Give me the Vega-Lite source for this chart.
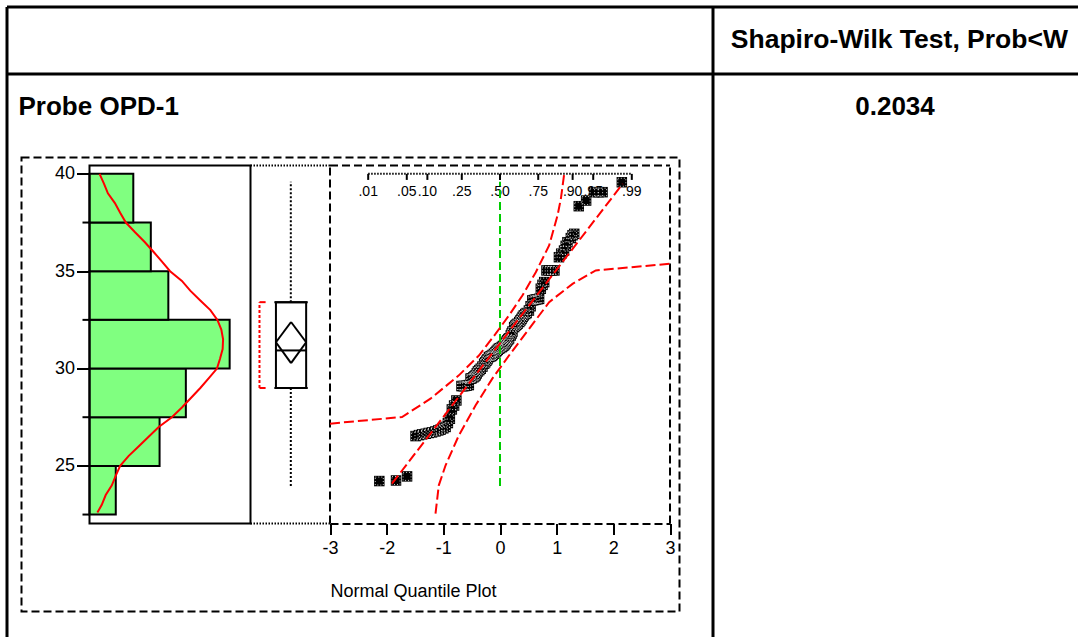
{
"$schema": "https://vega.github.io/schema/vega-lite/v6.json",
"padding": {"left": 6.5, "top": 6.5, "right": 0, "bottom": 0},
"background": "white",
"config": {"font": "Liberation Sans", "view": {"stroke": null}, "axis": {"grid": false}},
"datasets": {
"hist": [{"lo":22.5,"hi":25,"count":6},{"lo":25,"hi":27.5,"count":16},{"lo":27.5,"hi":30,"count":22},{"lo":30,"hi":32.5,"count":32},{"lo":32.5,"hi":35,"count":18},{"lo":35,"hi":37.5,"count":14},{"lo":37.5,"hi":40,"count":10}],
"density": [{"value":22.6,"dens":1.8},{"value":23,"dens":2.8},{"value":23.5,"dens":3.7},{"value":24,"dens":5.1},{"value":24.5,"dens":6.0},{"value":25,"dens":7.0},{"value":25.5,"dens":8.9},{"value":26,"dens":11.2},{"value":26.5,"dens":13.5},{"value":27,"dens":15.8},{"value":27.5,"dens":18.8},{"value":28,"dens":21.1},{"value":28.5,"dens":23.2},{"value":29,"dens":25.3},{"value":29.5,"dens":27.2},{"value":30,"dens":29.1},{"value":30.5,"dens":29.8},{"value":31,"dens":30.4},{"value":31.5,"dens":30.5},{"value":32,"dens":30.1},{"value":32.5,"dens":29.2},{"value":33,"dens":27.6},{"value":33.5,"dens":25.3},{"value":34,"dens":23.0},{"value":34.5,"dens":21.1},{"value":35,"dens":18.4},{"value":35.5,"dens":16.5},{"value":36,"dens":14.6},{"value":36.5,"dens":12.6},{"value":37,"dens":10.4},{"value":37.5,"dens":8.3},{"value":38,"dens":7.0},{"value":38.5,"dens":5.8},{"value":39,"dens":4.2},{"value":39.5,"dens":3.3},{"value":40,"dens":2.3}],
"box": [{"q1":29.0,"q3":33.41,"median":30.93,"mean":31.35,"ciLo":30.28,"ciHi":32.39,"whiskLo":23.97,"whiskHi":39.6}],
"points": [{"quantile":-2.13,"value":24.22},{"quantile":-1.835,"value":24.25},{"quantile":-1.64,"value":24.46},{"quantile":-1.49,"value":26.53},{"quantile":-1.43,"value":26.58},{"quantile":-1.375,"value":26.62},{"quantile":-1.31,"value":26.65},{"quantile":-1.257,"value":26.69},{"quantile":-1.2,"value":26.72},{"quantile":-1.14,"value":26.77},{"quantile":-1.09,"value":26.82},{"quantile":-1.05,"value":26.86},{"quantile":-1.0,"value":26.93},{"quantile":-0.96,"value":27.0},{"quantile":-0.92,"value":27.2},{"quantile":-0.885,"value":27.42},{"quantile":-0.85,"value":27.9},{"quantile":-0.81,"value":28.1},{"quantile":-0.77,"value":28.36},{"quantile":-0.68,"value":29.1},{"quantile":-0.655,"value":29.1},{"quantile":-0.63,"value":29.1},{"quantile":-0.59,"value":29.12},{"quantile":-0.55,"value":29.15},{"quantile":-0.52,"value":29.48},{"quantile":-0.5,"value":29.5},{"quantile":-0.47,"value":29.55},{"quantile":-0.45,"value":29.6},{"quantile":-0.43,"value":29.65},{"quantile":-0.41,"value":29.75},{"quantile":-0.39,"value":29.85},{"quantile":-0.365,"value":29.92},{"quantile":-0.34,"value":29.99},{"quantile":-0.31,"value":30.1},{"quantile":-0.28,"value":30.25},{"quantile":-0.26,"value":30.32},{"quantile":-0.24,"value":30.4},{"quantile":-0.22,"value":30.48},{"quantile":-0.195,"value":30.59},{"quantile":-0.17,"value":30.62},{"quantile":-0.15,"value":30.65},{"quantile":-0.13,"value":30.7},{"quantile":-0.106,"value":30.76},{"quantile":-0.08,"value":30.83},{"quantile":-0.06,"value":30.9},{"quantile":-0.04,"value":30.96},{"quantile":-0.02,"value":31.02},{"quantile":0.0,"value":31.05},{"quantile":0.03,"value":31.1},{"quantile":0.05,"value":31.15},{"quantile":0.07,"value":31.19},{"quantile":0.085,"value":31.25},{"quantile":0.1,"value":31.3},{"quantile":0.115,"value":31.38},{"quantile":0.13,"value":31.45},{"quantile":0.145,"value":31.5},{"quantile":0.16,"value":31.55},{"quantile":0.19,"value":31.7},{"quantile":0.205,"value":31.8},{"quantile":0.22,"value":31.9},{"quantile":0.25,"value":32.13},{"quantile":0.27,"value":32.2},{"quantile":0.29,"value":32.25},{"quantile":0.31,"value":32.3},{"quantile":0.34,"value":32.39},{"quantile":0.36,"value":32.47},{"quantile":0.38,"value":32.55},{"quantile":0.4,"value":32.65},{"quantile":0.42,"value":32.73},{"quantile":0.445,"value":32.8},{"quantile":0.47,"value":32.85},{"quantile":0.51,"value":32.98},{"quantile":0.54,"value":33.2},{"quantile":0.57,"value":33.5},{"quantile":0.6,"value":33.52},{"quantile":0.63,"value":33.55},{"quantile":0.66,"value":33.56},{"quantile":0.69,"value":33.58},{"quantile":0.72,"value":34.1},{"quantile":0.75,"value":34.3},{"quantile":0.78,"value":34.44},{"quantile":0.82,"value":35.04},{"quantile":0.87,"value":35.04},{"quantile":0.91,"value":35.04},{"quantile":0.96,"value":35.04},{"quantile":1.04,"value":35.72},{"quantile":1.08,"value":35.9},{"quantile":1.13,"value":36.06},{"quantile":1.16,"value":36.3},{"quantile":1.19,"value":36.49},{"quantile":1.25,"value":36.7},{"quantile":1.28,"value":36.85},{"quantile":1.31,"value":36.92},{"quantile":1.39,"value":38.34},{"quantile":1.52,"value":38.63},{"quantile":1.66,"value":39.06},{"quantile":1.74,"value":39.06},{"quantile":1.81,"value":39.06},{"quantile":2.15,"value":39.57}],
"bands": [{"band":"upper","quantile":-3,"value":27.17},{"band":"upper","quantile":-1.729,"value":27.51},{"band":"upper","quantile":-1.227,"value":28.45},{"band":"upper","quantile":-0.726,"value":29.65},{"band":"upper","quantile":-0.372,"value":30.67},{"band":"upper","quantile":-0.076,"value":31.79},{"band":"upper","quantile":0.159,"value":32.73},{"band":"upper","quantile":0.395,"value":33.75},{"band":"upper","quantile":0.632,"value":34.95},{"band":"upper","quantile":0.867,"value":36.32},{"band":"upper","quantile":1.015,"value":37.86},{"band":"upper","quantile":1.074,"value":38.72},{"band":"upper","quantile":1.133,"value":40.0},{"band":"lower","quantile":-1.138,"value":22.55},{"band":"lower","quantile":-1.08,"value":24.0},{"band":"lower","quantile":-0.96,"value":25.03},{"band":"lower","quantile":-0.726,"value":26.57},{"band":"lower","quantile":-0.43,"value":28.11},{"band":"lower","quantile":-0.136,"value":29.48},{"band":"lower","quantile":0.159,"value":30.67},{"band":"lower","quantile":0.513,"value":32.04},{"band":"lower","quantile":0.867,"value":33.41},{"band":"lower","quantile":1.28,"value":34.35},{"band":"lower","quantile":1.69,"value":35.04},{"band":"lower","quantile":3.0,"value":35.38}],
"refline": [{"quantile":-1.906,"value":24.09},{"quantile":2.165,"value":39.49}],
"probs": [{"z":-2.326,"label":".01"},{"z":-1.645,"label":".05"},{"z":-1.2816,"label":".10"},{"z":-0.6745,"label":".25"},{"z":0,"label":".50"},{"z":0.6745,"label":".75"},{"z":1.2816,"label":".90"},{"z":1.645,"label":".95"},{"z":2.326,"label":".99"}]
},
"columns": 4,
"spacing": 0,
"bounds": "flush",
"align": {"row": "each", "column": "each"},
"concat": [
 {"width": 15, "height": 67, "data": {"values": [{"column": "variable", "row": "header", "label": ""}]},
  "mark": {"type": "text"},
  "encoding": {"x": {"field": "column", "type": "nominal", "axis": {"orient": "top", "title": null, "labels": false, "ticks": false, "domain": true, "domainColor": "black", "domainWidth": 3}},
   "y": {"field": "row", "type": "nominal", "axis": {"orient": "left", "title": null, "labels": false, "ticks": false, "domain": true, "domainColor": "black", "domainWidth": 3}},
   "text": {"field": "label"}}},
 {"width": 658, "height": 67, "data": {"values": [{"column": "variable", "label": ""}]},
  "mark": {"type": "text"},
  "encoding": {"x": {"field": "column", "type": "nominal", "axis": {"orient": "top", "title": null, "labels": false, "ticks": false, "domain": true, "domainColor": "black", "domainWidth": 3}},
   "text": {"field": "label"}}},
 {"width": 33, "height": 67, "data": {"values": [{"column": "variable", "label": ""}]},
  "mark": {"type": "text"},
  "encoding": {"x": {"field": "column", "type": "nominal", "axis": {"orient": "top", "title": null, "labels": false, "ticks": false, "domain": true, "domainColor": "black", "domainWidth": 3}},
   "text": {"field": "label"}}},
 {"width": 365, "height": 67, "data": {"values": [{"column": "Shapiro-Wilk Test, Prob<W", "row": "header", "label": "Shapiro-Wilk Test, Prob<W"}]},
  "mark": {"type": "text", "fontSize": 26.5, "fontWeight": "bold", "color": "black"},
  "encoding": {"x": {"field": "column", "type": "nominal", "scale": {"align": 0.512}, "axis": {"orient": "top", "title": null, "labels": false, "ticks": false, "domain": true, "domainColor": "black", "domainWidth": 3}},
   "y": {"field": "row", "type": "nominal", "axis": {"orient": "left", "title": null, "labels": false, "ticks": false, "domain": true, "domainColor": "black", "domainWidth": 3}},
   "text": {"field": "label"}}},
 {"width": 15, "height": 84, "data": {"values": [{"column": "variable", "row": "Probe OPD-1", "label": "Probe OPD-1"}]},
  "mark": {"type": "text", "fontSize": 26, "fontWeight": "bold", "color": "black", "align": "left"},
  "encoding": {"x": {"field": "column", "type": "nominal", "scale": {"align": 0.8}, "axis": {"orient": "top", "title": null, "labels": false, "ticks": false, "domain": true, "domainColor": "black", "domainWidth": 3}},
   "y": {"field": "row", "type": "nominal", "scale": {"align": 0.393}, "axis": {"orient": "left", "title": null, "labels": false, "ticks": false, "domain": true, "domainColor": "black", "domainWidth": 3}},
   "text": {"field": "label"}}},
 {"width": 658, "height": 84, "data": {"values": [{"column": "variable", "label": ""}]},
  "mark": {"type": "text"},
  "encoding": {"x": {"field": "column", "type": "nominal", "axis": {"orient": "top", "title": null, "labels": false, "ticks": false, "domain": true, "domainColor": "black", "domainWidth": 3}},
   "text": {"field": "label"}}},
 {"width": 33, "height": 84, "data": {"values": [{"column": "variable", "label": ""}]},
  "mark": {"type": "text"},
  "encoding": {"x": {"field": "column", "type": "nominal", "axis": {"orient": "top", "title": null, "labels": false, "ticks": false, "domain": true, "domainColor": "black", "domainWidth": 3}},
   "text": {"field": "label"}}},
 {"width": 365, "height": 84, "data": {"values": [{"column": "Shapiro-Wilk Test, Prob<W", "row": "Probe OPD-1", "label": "0.2034"}]},
  "mark": {"type": "text", "fontSize": 26, "fontWeight": "bold", "color": "black"},
  "encoding": {"x": {"field": "column", "type": "nominal", "axis": {"orient": "top", "title": null, "labels": false, "ticks": false, "domain": true, "domainColor": "black", "domainWidth": 3}},
   "y": {"field": "row", "type": "nominal", "scale": {"align": 0.393}, "axis": {"orient": "left", "title": null, "labels": false, "ticks": false, "domain": true, "domainColor": "black", "domainWidth": 3}},
   "text": {"field": "label"}}},
 {"width": 15, "height": 479, "data": {"values": [{"row": "Probe OPD-1"}]},
  "mark": {"type": "text"},
  "encoding": {"y": {"field": "row", "type": "nominal", "axis": {"orient": "left", "title": null, "labels": false, "ticks": false, "domain": true, "domainColor": "black", "domainWidth": 3}}, "text": {"value": ""}}},
 {"width": 658, "height": 454,
  "view": {"stroke": "black", "strokeWidth": 2, "strokeDash": [8, 4]},
  "resolve": {"scale": {"x": "independent"}, "axis": {"x": "independent"}},
  "layer": [
   {"layer": [
    {"data": {"name": "hist"}, "mark": {"type": "rect", "fill": "#80ff80", "stroke": "black", "strokeWidth": 2},
     "encoding": {
      "y": {"field": "lo", "type": "quantitative", "scale": {"domain": [22.04, 40.43], "range": [366, 8], "nice": false, "zero": false},
        "axis": {"orient": "left", "offset": -68, "values": [25, 30, 35, 40], "domain": false, "ticks": true, "tickColor": "black", "tickWidth": 2, "tickSize": 13, "labelFontSize": 18, "labelColor": "black", "labelPadding": 2, "title": null, "grid": false}},
      "y2": {"field": "hi"},
      "x": {"field": "count", "type": "quantitative", "scale": {"domain": [0, 36.76], "range": [68, 229], "nice": false, "zero": false}, "axis": null},
      "x2": {"datum": 0}}},
    {"data": {"name": "hist"}, "transform": [{"filter": "datum.lo % 5 != 0"}], "mark": {"type": "rule", "color": "black", "strokeWidth": 2},
     "encoding": {"y": {"field": "lo", "type": "quantitative"}, "x": {"datum": -1.6, "axis": null}, "x2": {"datum": 0}}},
    {"data": {"name": "density"}, "mark": {"type": "line", "color": "red", "strokeWidth": 2},
     "encoding": {"x": {"field": "dens", "type": "quantitative", "axis": null}, "y": {"field": "value", "type": "quantitative"}, "order": {"field": "value", "type": "quantitative"}}},
    {"data": {"values": [{}]}, "mark": {"type": "rect", "filled": false, "stroke": "black", "strokeWidth": 2},
     "encoding": {"x": {"datum": 0, "axis": null}, "x2": {"datum": 36.76}, "y": {"datum": 22.04}, "y2": {"datum": 40.43}}}
   ]},
   {"layer": [
    {"data": {"values": [{}]}, "mark": {"type": "rule", "color": "black", "strokeWidth": 2, "strokeDash": [1.5, 1.5]},
     "encoding": {"x": {"datum": 0, "scale": {"domain": [0, 1], "range": [229, 308.5], "nice": false, "zero": false}, "axis": null}, "x2": {"datum": 1}, "y": {"datum": 40.43}}},
    {"data": {"values": [{}]}, "mark": {"type": "rule", "color": "black", "strokeWidth": 2, "strokeDash": [1.5, 1.5]},
     "encoding": {"x": {"datum": 0, "axis": null}, "x2": {"datum": 1}, "y": {"datum": 22.04}}},
    {"data": {"name": "box"}, "mark": {"type": "rule", "color": "black", "strokeWidth": 2, "strokeDash": [2, 2]},
     "encoding": {"x": {"datum": 0.507, "axis": null}, "y": {"field": "q3", "type": "quantitative"}, "y2": {"field": "whiskHi"}}},
    {"data": {"name": "box"}, "mark": {"type": "rule", "color": "black", "strokeWidth": 2, "strokeDash": [2, 2]},
     "encoding": {"x": {"datum": 0.507, "axis": null}, "y": {"field": "q1", "type": "quantitative"}, "y2": {"field": "whiskLo"}}},
    {"data": {"name": "box"}, "mark": {"type": "rect", "filled": false, "stroke": "black", "strokeWidth": 2},
     "encoding": {"x": {"datum": 0.32, "axis": null}, "x2": {"datum": 0.7}, "y": {"field": "q1", "type": "quantitative"}, "y2": {"field": "q3"}}},
    {"data": {"name": "box"}, "mark": {"type": "rule", "color": "black", "strokeWidth": 2},
     "encoding": {"x": {"datum": 0.3, "axis": null}, "x2": {"datum": 0.72}, "y": {"field": "q3", "type": "quantitative"}}},
    {"data": {"name": "box"}, "mark": {"type": "rule", "color": "black", "strokeWidth": 2},
     "encoding": {"x": {"datum": 0.3, "axis": null}, "x2": {"datum": 0.72}, "y": {"field": "q1", "type": "quantitative"}}},
    {"data": {"name": "box"}, "mark": {"type": "rule", "color": "black", "strokeWidth": 2},
     "encoding": {"x": {"datum": 0.32, "axis": null}, "x2": {"datum": 0.7}, "y": {"field": "median", "type": "quantitative"}}},
    {"data": {"name": "box"}, "mark": {"type": "rule", "color": "black", "strokeWidth": 2},
     "encoding": {"x": {"datum": 0.51, "axis": null}, "x2": {"datum": 0.7}, "y": {"field": "ciHi", "type": "quantitative"}, "y2": {"field": "mean"}}},
    {"data": {"name": "box"}, "mark": {"type": "rule", "color": "black", "strokeWidth": 2},
     "encoding": {"x": {"datum": 0.7, "axis": null}, "x2": {"datum": 0.51}, "y": {"field": "mean", "type": "quantitative"}, "y2": {"field": "ciLo"}}},
    {"data": {"name": "box"}, "mark": {"type": "rule", "color": "black", "strokeWidth": 2},
     "encoding": {"x": {"datum": 0.51, "axis": null}, "x2": {"datum": 0.32}, "y": {"field": "ciLo", "type": "quantitative"}, "y2": {"field": "mean"}}},
    {"data": {"name": "box"}, "mark": {"type": "rule", "color": "black", "strokeWidth": 2},
     "encoding": {"x": {"datum": 0.32, "axis": null}, "x2": {"datum": 0.51}, "y": {"field": "mean", "type": "quantitative"}, "y2": {"field": "ciHi"}}},
    {"data": {"name": "box"}, "mark": {"type": "rule", "color": "red", "strokeWidth": 2, "strokeDash": [3, 2]},
     "encoding": {"x": {"datum": 0.113, "axis": null}, "y": {"field": "q1", "type": "quantitative"}, "y2": {"field": "q3"}}},
    {"data": {"name": "box"}, "mark": {"type": "rule", "color": "red", "strokeWidth": 2},
     "encoding": {"x": {"datum": 0.113, "axis": null}, "x2": {"datum": 0.19}, "y": {"field": "q1", "type": "quantitative"}}},
    {"data": {"name": "box"}, "mark": {"type": "rule", "color": "red", "strokeWidth": 2},
     "encoding": {"x": {"datum": 0.113, "axis": null}, "x2": {"datum": 0.19}, "y": {"field": "q3", "type": "quantitative"}}}
   ]},
   {"layer": [
    {"data": {"values": [{}]}, "mark": {"type": "rule", "color": "black", "strokeWidth": 2, "strokeDash": [8, 4]},
     "encoding": {"x": {"datum": -3, "scale": {"domain": [-3, 3], "range": [308.5, 648.5], "nice": false, "zero": false}}, "y": {"datum": 22.04}, "y2": {"datum": 40.43}}},
    {"data": {"values": [{}]}, "mark": {"type": "rule", "color": "black", "strokeWidth": 2, "strokeDash": [8, 4]},
     "encoding": {"x": {"datum": 3}, "y": {"datum": 22.04}, "y2": {"datum": 40.43}}},
    {"data": {"values": [{}]}, "mark": {"type": "rule", "color": "black", "strokeWidth": 2, "strokeDash": [8, 4]},
     "encoding": {"x": {"datum": -3}, "x2": {"datum": 3}, "y": {"datum": 40.43}}},
    {"data": {"values": [{}]}, "mark": {"type": "rule", "color": "black", "strokeWidth": 2, "strokeDash": [1.5, 1.5]},
     "encoding": {"x": {"datum": -2.326}, "x2": {"datum": 2.326}, "y": {"datum": 40}}},
    {"data": {"name": "probs"}, "mark": {"type": "rule", "color": "black", "strokeWidth": 2},
     "encoding": {"x": {"field": "z", "type": "quantitative"}, "y": {"datum": 40}, "y2": {"datum": 39.69}}},
    {"data": {"name": "probs"}, "mark": {"type": "text", "fontSize": 14, "color": "black", "baseline": "top", "dy": 11},
     "encoding": {"x": {"field": "z", "type": "quantitative"}, "y": {"datum": 40}, "text": {"field": "label"}}},
    {"data": {"name": "points"}, "mark": {"type": "point", "shape": "square", "filled": true, "color": "black", "size": 110, "opacity": 1},
     "encoding": {"x": {"field": "quantile", "type": "quantitative",
       "axis": {"orient": "bottom", "offset": -88, "values": [-3, -2, -1, 0, 1, 2, 3], "labelExpr": "datum.value + ''", "domain": true, "domainColor": "black", "domainWidth": 2, "domainDash": [8, 4], "ticks": true, "tickColor": "black", "tickWidth": 2, "tickSize": 11, "labelFontSize": 18, "labelColor": "black", "labelPadding": 5, "labelFlush": false, "title": "Normal Quantile Plot", "titleFontSize": 18, "titleFontWeight": "normal", "titleColor": "black", "titleAnchor": "start", "titleAlign": "left", "titlePadding": 25, "grid": false}},
      "y": {"field": "value", "type": "quantitative"}}},
    {"data": {"name": "points"}, "mark": {"type": "point", "shape": "square", "filled": false, "stroke": "white", "strokeWidth": 0.8, "strokeDash": [1, 2], "size": 64, "opacity": 1},
     "encoding": {"x": {"field": "quantile", "type": "quantitative"}, "y": {"field": "value", "type": "quantitative"}}},
    {"data": {"name": "box"}, "mark": {"type": "rule", "color": "#00cc00", "strokeWidth": 2, "strokeDash": [8, 4]},
     "encoding": {"x": {"datum": 0}, "y": {"field": "whiskLo", "type": "quantitative"}, "y2": {"field": "whiskHi"}}},
    {"data": {"name": "bands"}, "mark": {"type": "line", "color": "red", "strokeWidth": 2, "strokeDash": [10, 4]},
     "encoding": {"x": {"field": "quantile", "type": "quantitative"}, "y": {"field": "value", "type": "quantitative"}, "detail": {"field": "band"}, "order": {"field": "quantile", "type": "quantitative"}}},
    {"data": {"name": "refline"}, "mark": {"type": "line", "color": "red", "strokeWidth": 2, "strokeDash": [10, 4]},
     "encoding": {"x": {"field": "quantile", "type": "quantitative"}, "y": {"field": "value", "type": "quantitative"}}}
   ]}
  ]},
 {"width": 33, "height": 479, "data": {"values": []}, "mark": {"type": "point"}},
 {"width": 365, "height": 479, "data": {"values": [{"row": "Probe OPD-1"}]},
  "mark": {"type": "text"},
  "encoding": {"y": {"field": "row", "type": "nominal", "axis": {"orient": "left", "title": null, "labels": false, "ticks": false, "domain": true, "domainColor": "black", "domainWidth": 3}}, "text": {"value": ""}}}
]
}
